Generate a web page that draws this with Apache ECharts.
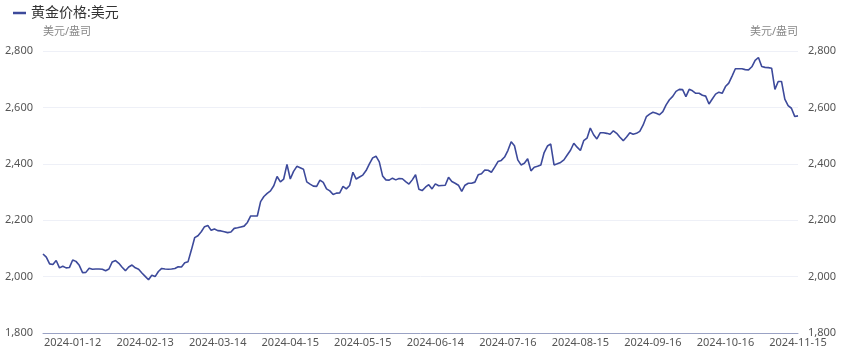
<!DOCTYPE html>
<html><head><meta charset="utf-8">
<script src="https://cdn.jsdelivr.net/npm/echarts@6/dist/echarts.min.js"></script>
<style>html,body{margin:0;padding:0;background:#fff}#c{width:865px;height:358px}</style>
</head><body><div id="c"></div>
<script>
const seriesName = '黄金价格:美元';
const unitName = '美元/盎司';
const startDate = '2024-01-01';
const firstLabelIndex = 9;
const labelStep = 22;
const yMin = 1800, yMax = 2800, yStep = 200;

const goldJanFeb = [2080, 2069, 2045, 2043, 2057, 2031, 2037, 2031, 2032, 2059, 2054, 2040, 2014, 2015, 2030, 2026, 2027, 2027, 2026, 2021, 2027, 2052, 2057, 2047, 2033, 2021, 2034, 2041, 2031, 2026, 2013, 2001, 1989, 2005, 2000, 2018, 2029, 2027, 2026, 2027, 2029, 2035, 2034, 2049];
const goldMarApr = [2053, 2094, 2138, 2145, 2159, 2177, 2181, 2164, 2169, 2163, 2162, 2159, 2156, 2158, 2171, 2173, 2176, 2179, 2192, 2215, 2215, 2215, 2266, 2284, 2295, 2304, 2322, 2355, 2336, 2346, 2398, 2346, 2373, 2391, 2386, 2381, 2336, 2328, 2321, 2320, 2342, 2334, 2311];
const goldMayJun = [2304, 2291, 2296, 2297, 2320, 2311, 2323, 2370, 2346, 2353, 2360, 2376, 2400, 2421, 2427, 2407, 2357, 2343, 2342, 2349, 2343, 2348, 2347, 2337, 2328, 2343, 2361, 2310, 2305, 2317, 2326, 2311, 2329, 2322, 2323, 2324, 2352, 2337, 2331, 2324, 2302, 2324, 2331, 2331, 2335];
const goldJulAug = [2361, 2365, 2378, 2377, 2370, 2388, 2408, 2412, 2424, 2447, 2478, 2464, 2414, 2396, 2402, 2418, 2375, 2388, 2391, 2396, 2440, 2463, 2470, 2396, 2400, 2405, 2414, 2431, 2448, 2473, 2459, 2447, 2482, 2491, 2527, 2503, 2488, 2510, 2510, 2508, 2505, 2517, 2508, 2494, 2482];
const goldSepOct = [2495, 2510, 2505, 2508, 2515, 2537, 2567, 2576, 2583, 2579, 2574, 2585, 2609, 2627, 2639, 2657, 2664, 2663, 2638, 2664, 2659, 2650, 2650, 2643, 2640, 2612, 2630, 2647, 2654, 2650, 2674, 2686, 2711, 2737, 2737, 2737, 2734, 2733, 2744, 2767, 2777, 2745, 2742];
const goldNov = [2741, 2739, 2664, 2692, 2692, 2629, 2606, 2597, 2568, 2570];

const values = [].concat(goldJanFeb, goldMarApr, goldMayJun, goldJulAug, goldSepOct, goldNov);

// weekday category labels
const categories = [];
(function () {
  const d = new Date(startDate + 'T00:00:00Z');
  while (categories.length < values.length) {
    const wd = d.getUTCDay();
    if (wd !== 0 && wd !== 6) categories.push(d.toISOString().slice(0, 10));
    d.setUTCDate(d.getUTCDate() + 1);
  }
})();

const fmt = v => v.toLocaleString('en-US');
const font = "'Noto Sans', 'Noto Sans CJK SC', sans-serif";
const chart = echarts.init(document.getElementById('c'));
const yBase = {
  type: 'value', min: yMin, max: yMax, interval: yStep,
  name: unitName, nameLocation: 'end', nameGap: 14,
  axisLine: { show: false }, axisTick: { show: false },
  axisLabel: { formatter: fmt, color: '#555', fontSize: 11, fontFamily: font, margin: 10 }
};
chart.setOption({
  animation: false,
  textStyle: { fontFamily: font },
  legend: {
    left: 9, top: 3, icon: 'rect', itemWidth: 13, itemHeight: 2.5, itemGap: 4, padding: [3, 4, 3, 4],
    textStyle: { fontSize: 14, color: '#333', fontFamily: font }
  },
  grid: { left: 43, right: 67, top: 51, bottom: 25 },
  xAxis: {
    type: 'category', data: categories, boundaryGap: false,
    axisLine: { lineStyle: { color: '#9aa2c4' } },
    axisTick: { show: false },
    axisLabel: { interval: i => (i - firstLabelIndex) % labelStep === 0 && i >= firstLabelIndex, color: '#555', fontSize: 11, fontFamily: font, margin: 4 }
  },
  yAxis: [
    Object.assign({}, yBase, {
      position: 'left',
      nameTextStyle: { color: '#888', fontSize: 11, align: 'left', fontFamily: font },
      splitLine: { lineStyle: { color: '#eef0f7' } }
    }),
    Object.assign({}, yBase, {
      position: 'right',
      nameTextStyle: { color: '#888', fontSize: 11, align: 'right', fontFamily: font },
      splitLine: { show: false }
    })
  ],
  series: [{
    name: seriesName, type: 'line', data: values, showSymbol: false, symbol: 'none',
    lineStyle: { color: '#3d4a9b', width: 1.6 }, itemStyle: { color: '#3d4a9b' }
  }]
});
</script></body></html>
